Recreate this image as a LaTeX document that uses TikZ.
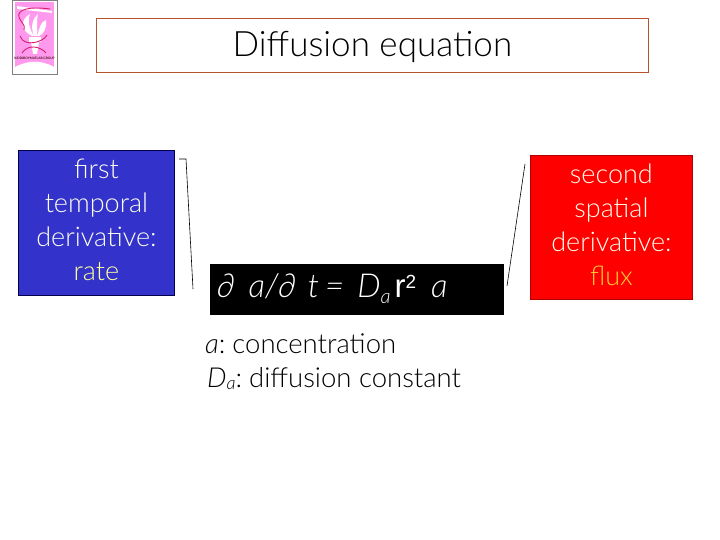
\documentclass[tikz,border=0pt]{standalone}
\usepackage{fontspec}
\setmainfont{Lato Light}
\newfontfamily\boldf{Liberation Sans}
\definecolor{frameb}{HTML}{B5532F}
\definecolor{bluebox}{HTML}{3333CC}
\definecolor{redbox}{HTML}{FF0000}
\definecolor{cream}{HTML}{FFFFEE}
\definecolor{yel}{HTML}{FFFF99}
\definecolor{flux}{HTML}{FFCC33}
\definecolor{pinkl}{HTML}{FF99EE}
\definecolor{crim}{HTML}{D81E6E}
\tikzset{
  x=1pt,y=-1pt,
  framebox/.style={draw=frameb,line width=0.8pt,fill=white,minimum width=552pt,minimum height=54pt,inner sep=0pt,font=\fontsize{35}{38}\selectfont},
  sidebox/.style={line width=0.8pt,inner sep=0pt,align=center,text=cream,font=\fontsize{27}{34}\selectfont},
  eqbox/.style={fill=black,inner sep=0pt,minimum width=294pt,minimum height=51pt},
  eqtxt/.style={anchor=west,inner sep=0pt,text=white,font=\fontsize{33}{36}\selectfont\itshape},
  note/.style={anchor=west,inner sep=0pt,font=\fontsize{27.5}{32}\selectfont},
  leader/.style={draw=black,line width=0.6pt}
}
\begin{document}
\begin{tikzpicture}
\useasboundingbox (0,0) rectangle (720,540);
% logo
\draw[fill=white,draw=gray,line width=0.7pt] (12,0) rectangle (57,74);
\fill[pinkl] (15,2) rectangle (54,72);
\fill[white] (15,72) -- (15,67) .. controls (28,60) and (42,60) .. (54,67) -- (54,72) -- cycle;
\fill[white] (17,6) -- (52,11) -- (52,13) -- (17,9) -- cycle;
\fill[white] (32,36) .. controls (20,30) and (20,20) .. (30,14) .. controls (27,22) and (30,30) .. (34,36) -- cycle;
\fill[white] (34,36) .. controls (30,26) and (33,18) .. (38,14) .. controls (36,22) and (38,30) .. (37,36) -- cycle;
\fill[white] (37,36) .. controls (40,28) and (40,22) .. (46,20) .. controls (47,28) and (44,34) .. (39,36) -- cycle;
\fill[white] (29,37) rectangle (41,42);
\fill[white] (31,42) -- (39,42) -- (37,54) -- (33,54) -- cycle;
\draw[crim,line width=0.9pt] (50,9) .. controls (28,6) and (17,10) .. (19,17) .. controls (20,22) and (26,24) .. (24,30);
\draw[crim,line width=0.9pt] (20,36) .. controls (24,48) and (44,42) .. (47,35) (22,53) .. controls (28,44) and (40,46) .. (46,53);
\node[name=logotext,inner sep=0pt,text=black!80!red,font=\fontsize{3.2}{4}\selectfont\bfseries] at (34.5,58) {KIDDIBOYMATLAB GROUP};
% title
\node[framebox,anchor=north west] (title) at (96,18) {\raisebox{-2pt}[\height][\depth]{Diffusion equation}};
% side boxes
\node[sidebox,draw=black!70!blue,fill=bluebox,anchor=north west,minimum width=156pt,minimum height=145pt] (first) at (18,150) {\raisebox{3pt}{\begin{tabular}{@{}c@{}}first\\temporal\\derivative:\\\textcolor{yel}{rate}\end{tabular}}};
\node[sidebox,draw=redbox!70!black,fill=redbox,anchor=north west,minimum width=162pt,minimum height=144pt] (second) at (530,155) {\raisebox{0pt}{\begin{tabular}{@{}c@{}}second\\spatial\\derivative:\\\textcolor{flux}{flux}\end{tabular}}};
% equation
\node[eqbox,anchor=north west] (eq) at (210,264) {};
\node[eqtxt] (eqtext) at (217,289) {∂\hspace{14pt}a/∂\hspace{12pt}t\hspace{6pt}=\hspace{13pt}D\raisebox{-6pt}{\fontsize{20}{20}\selectfont a}\hspace{4pt}{\boldf\upshape r\raisebox{9pt}{\fontsize{19}{19}\selectfont 2}}\hspace{15pt}a};
% notes
\node[note] (n1) at (205,344) {\textit{a}:\hspace{-3pt} concentration};
\node[note] (n2) at (207,379) {\textit{D}\raisebox{-2pt}{\fontsize{18}{18}\selectfont\textit{a}}:\hspace{-3pt} diffusion constant};
% leaders
\coordinate (la) at (179,159);
\coordinate (lb) at (186,159);
\coordinate (lc) at (193,289);
\coordinate (ra) at (525,164);
\coordinate (rb) at (507,286);
\draw[leader] (la) -- (lb) -- (lc);
\draw[leader] (ra) -- (rb);
\end{tikzpicture}
\end{document}
